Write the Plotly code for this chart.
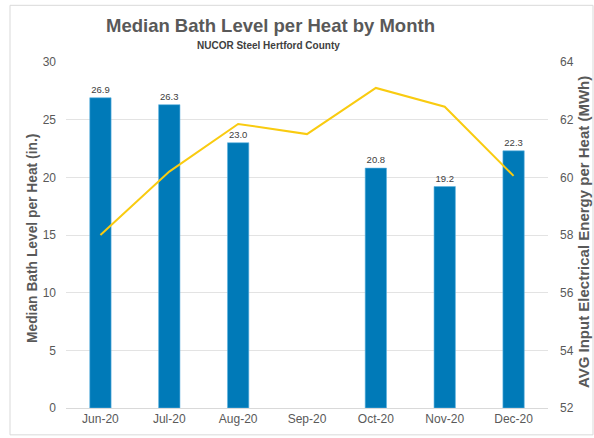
import plotly.graph_objects as go

months = ["Jun-20", "Jul-20", "Aug-20", "Sep-20", "Oct-20", "Nov-20", "Dec-20"]
bath_level = [26.9, 26.3, 23.0, None, 20.8, 19.2, 22.3]
energy_mwh = [58.0, 60.2, 61.85, 61.5, 63.1, 62.45, 60.05]

labels = ["" if v is None else f"{v:.1f}" for v in bath_level]

fig = go.Figure()
fig.add_trace(go.Bar(
    x=months, y=bath_level, name="Median Bath Level",
    marker=dict(color="#007AB8", line=dict(color="#5FB4E0", width=0.6)),
    width=0.31,
    text=labels, textposition="outside", cliponaxis=False,
    textfont=dict(size=9.5, color="#404040", family="Liberation Sans"),
    yaxis="y",
))
fig.add_trace(go.Scatter(
    x=months, y=energy_mwh, name="AVG Energy", mode="lines",
    line=dict(color="#F9CB10", width=2),
    yaxis="y2",
))

tick_font = dict(size=12, color="#595959", family="Liberation Sans")
fig.update_layout(
    width=594, height=438,
    margin=dict(l=66, r=46, t=62, b=28),
    paper_bgcolor="white", plot_bgcolor="white",
    showlegend=False,
    font=dict(family="Liberation Sans", color="#595959"),
    xaxis=dict(tickfont=tick_font, showgrid=False, showline=True,
               linecolor="#D9D9D9", linewidth=1, ticks=""),
    yaxis=dict(range=[0, 30], dtick=5, tickfont=tick_font,
               gridcolor="#E3E3E3", gridwidth=1, zeroline=False,
               showline=False, ticks="", ticklabelstandoff=9),
    yaxis2=dict(range=[52, 64], dtick=2, overlaying="y", side="right",
                tickfont=tick_font, showgrid=False, zeroline=False,
                showline=False, ticks="", ticklabelstandoff=11),
    bargap=0.69,
    shapes=[dict(type="rect", xref="paper", yref="paper",
                 x0=-66/482 + 10/482, x1=1 + 46/482 - 1/482,
                 y0=-28/348 + 1/348, y1=1 + 57/348,
                 line=dict(color="#D9D9D9", width=1), layer="below")],
    annotations=[
        dict(text="<b>Median Bath Level per Heat by Month</b>", xref="paper", yref="paper",
             x=(270 - 66) / 482, y=1 + (62 - 25) / 348, showarrow=False,
             font=dict(size=18.5, color="#595959"), xanchor="center", yanchor="middle"),
        dict(text="<b>NUCOR Steel Hertford County</b>", xref="paper", yref="paper",
             x=(268 - 66) / 482, y=1 + (62 - 45) / 348, showarrow=False,
             font=dict(size=10, color="#404040"), xanchor="center", yanchor="middle"),
        dict(text="<b>Median Bath Level per Heat (in.)</b>", xref="paper", yref="paper",
             x=(33 - 66) / 482, y=1 - (240 - 62) / 348, showarrow=False, textangle=-90,
             font=dict(size=13.8, color="#595959"), xanchor="center", yanchor="middle"),
        dict(text="<b>AVG Input Electrical Energy per Heat (MWh)</b>", xref="paper", yref="paper",
             x=(583 - 66) / 482, y=1 - (233 - 62) / 348, showarrow=False, textangle=-90,
             font=dict(size=15, color="#595959"), xanchor="center", yanchor="middle"),
    ],
)

fig.write_html("out.html", config={"displayModeBar": False},
               post_script="document.body.style.margin='0px';document.body.style.padding='0px';")
